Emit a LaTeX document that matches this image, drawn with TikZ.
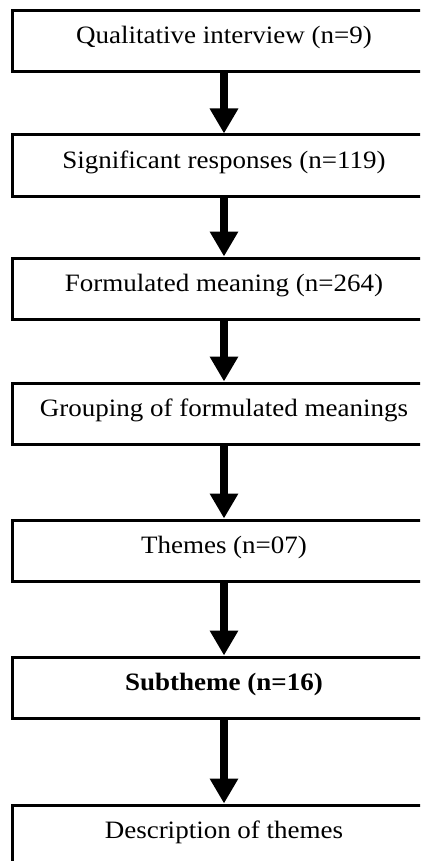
\documentclass[tikz,border=0pt]{standalone}
\usepackage{fontspec}
\setmainfont{Liberation Serif}[FakeStretch=1.08]
\usepackage{tikz}
\usetikzlibrary{arrows.meta, positioning}

\begin{document}
\begin{tikzpicture}[x=1pt, y=1pt,
  stage/.style={draw, line width=3pt, rectangle, inner sep=0pt,
                minimum width=424pt, text height=33pt, text depth=28pt,
                font=\fontsize{25pt}{30pt}\selectfont},
  flow/.style={line width=8pt, -{Triangle[width=27pt, length=25pt]}}]
% Page frame (boxes run off the right and bottom edges)
\useasboundingbox (0,0) rectangle (420,-861);
\clip (0,0) rectangle (420,-861);
% Stages
\node[stage, anchor=north west] (interview) at (10.5,-9.5) {Qualitative interview (n=9)};
\node[stage, below=60pt of interview] (responses) {Significant responses (n=119)};
\node[stage, below=59pt of responses] (meaning) {Formulated meaning (n=264)};
\node[stage, below=61pt of meaning] (grouping) {Grouping of formulated meanings};
\node[stage, below=73pt of grouping] (themes) {Themes (n=07)};
\node[stage, below=73pt of themes] (subtheme) {\textbf{Subtheme (n=16)}};
\node[stage, below=84pt of subtheme] (description) {Description of themes};
% Arrows
\draw[flow] (interview) -- (responses);
\draw[flow] (responses) -- (meaning);
\draw[flow] (meaning) -- (grouping);
\draw[flow] (grouping) -- (themes);
\draw[flow] (themes) -- (subtheme);
\draw[flow] (subtheme) -- (description);
\end{tikzpicture}
\end{document}
